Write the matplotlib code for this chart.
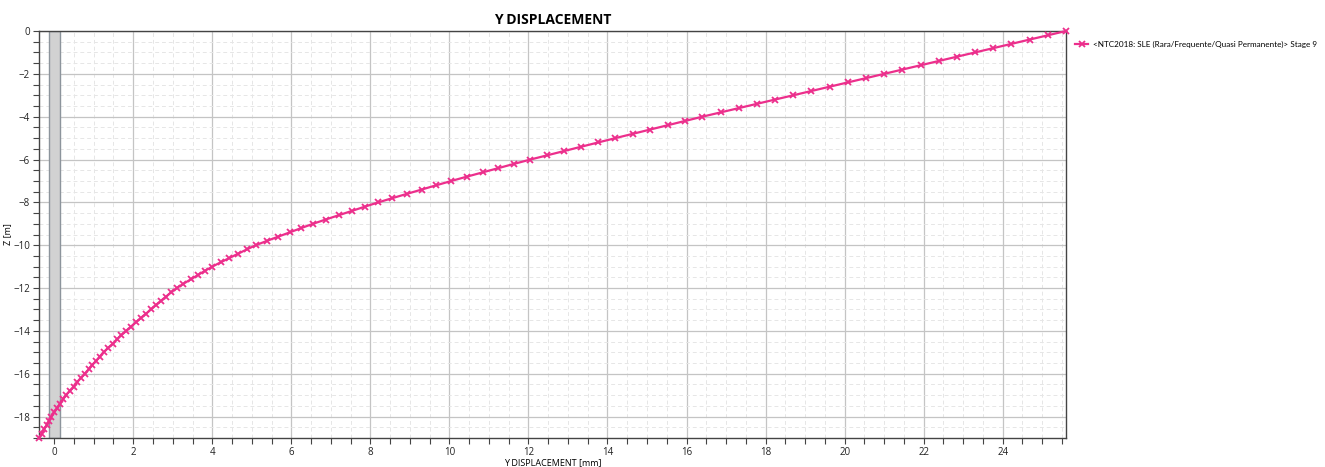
import matplotlib
matplotlib.use('Agg')
import matplotlib.pyplot as plt
from matplotlib.ticker import MultipleLocator
import numpy as np

plt.rcParams['font.family'] = ['Open Sans', 'DejaVu Sans']

# depth of each node [m]
z = np.round(np.arange(0, 96) * -0.2, 2)
# displacement [mm]
disp = [25.60, 25.14, 24.68, 24.22, 23.76,
        23.30, 22.84, 22.38, 21.92, 21.46,
        21.00, 20.54, 20.08, 19.62, 19.16,
        18.70, 18.24, 17.78, 17.32, 16.86,
        16.40, 15.96, 15.52, 15.08, 14.64,
        14.20, 13.77, 13.34, 12.91, 12.48,
        12.05, 11.64, 11.24, 10.84, 10.44,
        10.05, 9.67, 9.30, 8.93, 8.56,
        8.20, 7.86, 7.53, 7.20, 6.87,
        6.55, 6.25, 5.96, 5.67, 5.38,
        5.10, 4.87, 4.65, 4.43, 4.21,
        4.00, 3.81, 3.63, 3.45, 3.27,
        3.10, 2.96, 2.83, 2.70, 2.57,
        2.45, 2.32, 2.19, 2.07, 1.94,
        1.82, 1.70, 1.59, 1.48, 1.36,
        1.25, 1.15, 1.06, 0.96, 0.87,
        0.77, 0.67, 0.58, 0.49, 0.39,
        0.30, 0.22, 0.15, 0.08, 0.00,
        -0.07, -0.13, -0.19, -0.26, -0.32, -0.38]
series_name = '<NTC2018: SLE (Rara/Frequente/Quasi Permanente)> Stage 9'
band = (-0.13, 0.15)
xlim = (-0.385, 25.6)
ylim = (-19, 0)

fig = plt.figure(figsize=(13.25, 4.67), dpi=100)
ax = fig.add_axes([0.0294, 0.0621, 0.7751, 0.8715])

ax.axvspan(band[0], band[1], facecolor='#d2d2d2', edgecolor='#8c949c', lw=1.0, zorder=1)
ax.plot(disp, z, color='#ec2f8c', lw=1.6, marker='x', ms=4.5, mew=1.3,
        label=series_name, zorder=3, clip_on=False)

ax.set_xlim(*xlim)
ax.set_ylim(*ylim)
ax.xaxis.set_major_locator(MultipleLocator(2))
ax.xaxis.set_minor_locator(MultipleLocator(0.5))
ax.yaxis.set_major_locator(MultipleLocator(2))
ax.yaxis.set_minor_locator(MultipleLocator(0.5))
ax.grid(which='major', color='#c4c4c4', lw=0.9, zorder=0)
ax.grid(which='minor', color='#e6e6e6', lw=0.7, ls=(0, (4, 3)), zorder=0)
ax.set_axisbelow(True)
ax.tick_params(which='both', direction='out', length=4, width=0.8, colors='#444444',
               labelsize=7, labelcolor='#222222', pad=2.5)
for s in ax.spines.values():
    s.set_color('#444444')
    s.set_linewidth(1.0)

ax.set_title('Y DISPLACEMENT', fontsize=10, fontweight='bold', pad=5)
ax.set_xlabel('Y DISPLACEMENT [mm]', fontsize=6.5, labelpad=0)
ax.set_ylabel('Z [m]', fontsize=6.5, labelpad=1)

ax.legend(loc='upper left', bbox_to_anchor=(1.006, 0.985), frameon=False,
          prop={'family': ['Lato', 'DejaVu Sans'], 'size': 5.9},
          handlelength=1.5, handletextpad=0.6, borderaxespad=0)

fig.savefig('out.png', dpi=100)
